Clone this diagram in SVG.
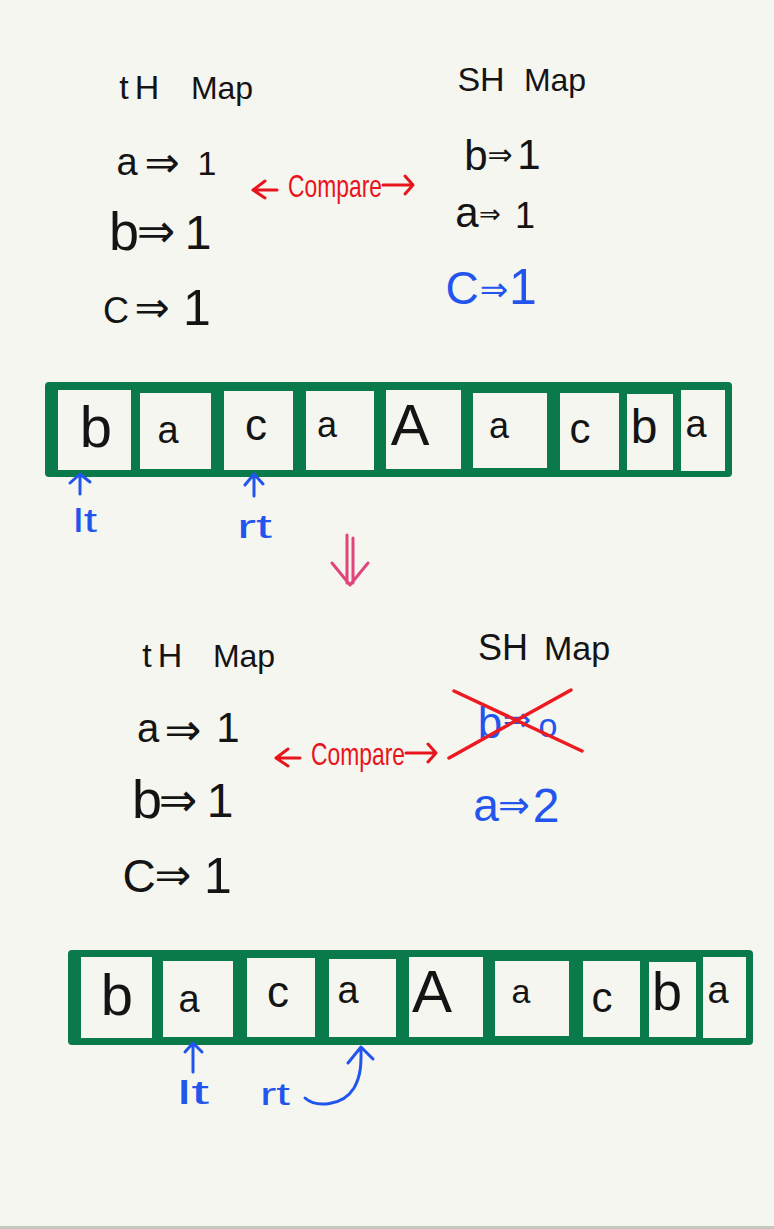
<svg xmlns="http://www.w3.org/2000/svg" width="774" height="1229" viewBox="0 0 774 1229">
<style>
.t{font-family:"Liberation Sans","DejaVu Sans",sans-serif;fill:#141414;text-anchor:middle}
.ar{font-family:"DejaVu Sans",sans-serif}
.s{text-anchor:start}
.b{fill:#2255ee}
.r{fill:#e8141c}
.cell{fill:#f5f6f0}
.frame{fill:#0b7a4b}
.ln{fill:none;stroke-linecap:round;stroke-linejoin:round}
.blue{stroke:#2255ee;stroke-width:3}
.red{stroke:#e8141c;stroke-width:3}
</style>
<rect width="774" height="1229" fill="#f5f6f0"/>
<rect x="0" y="1226" width="774" height="3" fill="#c6c7bf"/>

<g id="top-th-map">
<text class="t" y="99" font-size="34"><tspan x="124">t</tspan><tspan x="147">H</tspan><tspan x="222" font-size="32">Map</tspan></text>
<text class="t" y="175"><tspan x="127" font-size="38">a</tspan><tspan class="ar" x="162" y="177" font-size="42">⇒</tspan><tspan x="207" y="175" font-size="34">1</tspan></text>
<text class="t" y="250"><tspan x="124" font-size="54">b</tspan><tspan class="ar" x="156" y="247" font-size="46">⇒</tspan><tspan x="198" y="249" font-size="48">1</tspan></text>
<text class="t" y="323"><tspan x="116" font-size="36">C</tspan><tspan class="ar" x="152" y="322" font-size="42">⇒</tspan><tspan x="197" y="325" font-size="50">1</tspan></text>
</g>
<g id="top-sh-map">
<text class="t" y="91" font-size="34"><tspan x="481">SH</tspan><tspan x="555" font-size="32">Map</tspan></text>
<text class="t" y="170"><tspan x="476" font-size="42">b</tspan><tspan class="ar" x="500" y="165" font-size="30">⇒</tspan><tspan x="529" y="169" font-size="42">1</tspan></text>
<text class="t" y="227"><tspan x="467" font-size="42">a</tspan><tspan class="ar" x="490" y="223" font-size="26">⇒</tspan><tspan x="525" y="228" font-size="36">1</tspan></text>
<text class="t b" y="304"><tspan x="462" font-size="46">C</tspan><tspan class="ar" x="494" y="301" font-size="34">⇒</tspan><tspan x="523" y="304" font-size="50">1</tspan></text>
</g>
<g id="top-compare">
<text class="t r s" x="288" y="197" font-size="32" textLength="94" lengthAdjust="spacingAndGlyphs">Compare</text>
</g>

<g id="top-array">
<rect class="frame" x="45" y="382" width="687" height="95" rx="4"/>
<rect class="cell" x="58" y="390" width="73" height="80"/>
<rect class="cell" x="140" y="393" width="71" height="76"/>
<rect class="cell" x="224" y="391" width="69" height="79"/>
<rect class="cell" x="306" y="391" width="68" height="79"/>
<rect class="cell" x="386" y="390" width="75" height="79"/>
<rect class="cell" x="473" y="393" width="74" height="75"/>
<rect class="cell" x="560" y="393" width="59" height="77"/>
<rect class="cell" x="627" y="394" width="46" height="76"/>
<rect class="cell" x="681" y="390" width="44" height="81"/>
<text class="t" x="96" y="447" font-size="58">b</text>
<text class="t" x="168" y="443" font-size="38">a</text>
<text class="t" x="256" y="440" font-size="44">c</text>
<text class="t" x="327" y="437" font-size="36">a</text>
<text class="t" x="410" y="445" font-size="58">A</text>
<text class="t" x="499" y="438" font-size="36">a</text>
<text class="t" x="580" y="443" font-size="42">c</text>
<text class="t" x="644" y="443" font-size="48">b</text>
<text class="t" x="696" y="437" font-size="38">a</text>
</g>

<g id="top-pointers">
<text class="t b s" x="73" y="532" font-size="34" textLength="24" lengthAdjust="spacingAndGlyphs">lt</text>
<text class="t b s" x="237" y="538" font-size="34" textLength="35" lengthAdjust="spacingAndGlyphs">rt</text>
</g>

<g id="bottom-th-map">
<text class="t" y="667" font-size="34"><tspan x="147">t</tspan><tspan x="170">H</tspan><tspan x="244" font-size="32">Map</tspan></text>
<text class="t" y="742"><tspan x="148" font-size="40">a</tspan><tspan class="ar" x="183" y="745" font-size="44">⇒</tspan><tspan x="228" y="742" font-size="42">1</tspan></text>
<text class="t" y="818"><tspan x="147" font-size="54">b</tspan><tspan class="ar" x="178" y="816" font-size="46">⇒</tspan><tspan x="220" y="817" font-size="48">1</tspan></text>
<text class="t" y="892"><tspan x="139" font-size="46">C</tspan><tspan class="ar" x="173" y="890" font-size="44">⇒</tspan><tspan x="218" y="893" font-size="50">1</tspan></text>
</g>
<g id="bottom-sh-map">
<text class="t" y="660" font-size="36"><tspan x="503">SH</tspan><tspan x="577" font-size="34">Map</tspan></text>
<text class="t b" y="738"><tspan x="490" font-size="44">b</tspan><tspan class="ar" x="517" y="731" font-size="34">⇒</tspan><tspan x="548" y="737" font-size="34">o</tspan></text>
<text class="t b" y="821"><tspan x="486" font-size="46">a</tspan><tspan class="ar" x="514" y="818" font-size="38">⇒</tspan><tspan x="546" y="822" font-size="48">2</tspan></text>
</g>
<g id="bottom-compare">
<text class="t r s" x="311" y="765" font-size="32" textLength="94" lengthAdjust="spacingAndGlyphs">Compare</text>
</g>

<g id="bottom-array">
<rect class="frame" x="68" y="950" width="685" height="95" rx="4"/>
<rect class="cell" x="81" y="957" width="71" height="81"/>
<rect class="cell" x="163" y="961" width="70" height="76"/>
<rect class="cell" x="247" y="958" width="68" height="79"/>
<rect class="cell" x="329" y="959" width="67" height="78"/>
<rect class="cell" x="409" y="957" width="74" height="80"/>
<rect class="cell" x="495" y="961" width="74" height="75"/>
<rect class="cell" x="583" y="961" width="57" height="76"/>
<rect class="cell" x="649" y="962" width="47" height="75"/>
<rect class="cell" x="703" y="957" width="43" height="81"/>
<text class="t" x="117" y="1015" font-size="58">b</text>
<text class="t" x="189" y="1012" font-size="38">a</text>
<text class="t" x="278" y="1007" font-size="44">c</text>
<text class="t" x="348" y="1003" font-size="38">a</text>
<text class="t" x="432" y="1012" font-size="60">A</text>
<text class="t" x="521" y="1003" font-size="34">a</text>
<text class="t" x="602" y="1012" font-size="42">c</text>
<text class="t" x="667" y="1010" font-size="54">b</text>
<text class="t" x="718" y="1003" font-size="38">a</text>
</g>

<g id="bottom-pointers">
<text class="t b s" x="177" y="1104" font-size="34" textLength="32" lengthAdjust="spacingAndGlyphs">lt</text>
<text class="t b s" x="260" y="1105" font-size="32" textLength="30" lengthAdjust="spacingAndGlyphs">rt</text>
</g>

<g id="connectors">
<path class="ln red" d="M277,190 L253,190 M265,181 L253,190 L265,198"/>
<path class="ln red" d="M383,185 L413,185 M405,176 L413,185 L405,194"/>
<path class="ln red" d="M300,758 L276,758 M288,749 L276,758 L288,766"/>
<path class="ln red" d="M406,753 L436,753 M428,744 L436,753 L428,762"/>
<path class="ln blue" d="M80,494 L80,475 M70,483 L80,474 L90,482"/>
<path class="ln blue" d="M254,496 L254,475 M245,485 L254,474 L263,484"/>
<path class="ln blue" d="M193,1072 L193,1045 M185,1052 L193,1043 L202,1052"/>
<path class="ln blue" d="M305,1098 C316,1108 343,1106 354,1088 C362,1074 361,1060 361,1048 M348,1063 L361,1047 L373,1059"/>
<path class="ln" stroke="#e0457b" stroke-width="3" d="M347,535 L347,583 M353,538 L353,583 M332,563 L350,585 L368,563"/>
<path class="ln" stroke="#ee1a22" stroke-width="3.5" d="M454,691 L582,751 M571,690 L449,758"/>
</g>
</svg>
